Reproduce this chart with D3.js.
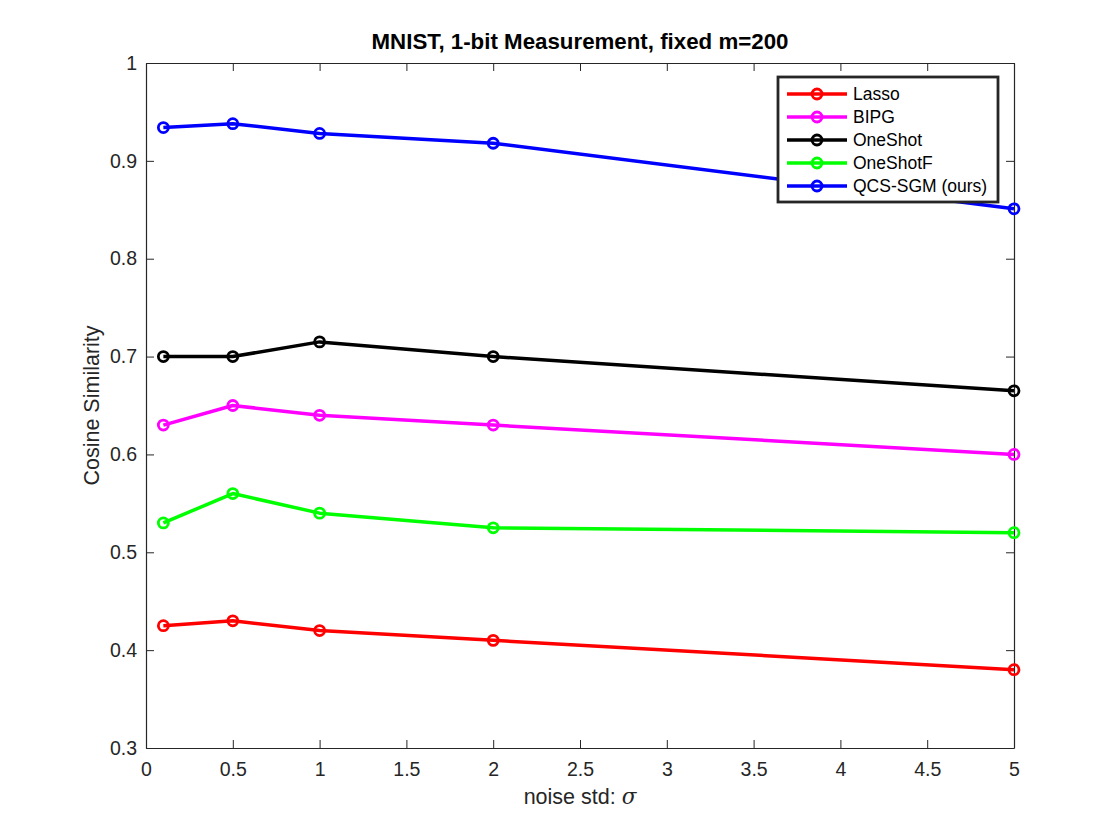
<!DOCTYPE html>
<html>
<head>
<meta charset="utf-8">
<script src="https://cdn.jsdelivr.net/npm/d3@7"></script>
<style>
  body { margin:0; background:#fff; }
  svg text { font-family: "Liberation Sans", Arial, Helvetica, sans-serif; }
</style>
</head>
<body>
<div id="chart"></div>
<script>
// data
var sigma = [0.1, 0.5, 1, 2, 5]
var seriesNames = ["Lasso", "BIPG", "OneShot", "OneShotF", "QCS-SGM (ours)"]
var seriesColors = ["#ff0000", "#ff00ff", "#000000", "#00ff00", "#0000ff"]
var lasso    = [0.425, 0.43, 0.42, 0.41, 0.38]
var bipg     = [0.63, 0.65, 0.64, 0.63, 0.60]
var oneShot  = [0.70, 0.70, 0.715, 0.70, 0.665]
var oneShotF = [0.53, 0.56, 0.54, 0.525, 0.52]
var qcsSgm   = [0.934, 0.938, 0.928, 0.918, 0.851]
var xTicks = [0, 0.5, 1, 1.5, 2, 2.5, 3, 3.5, 4, 4.5, 5]
var yTicks = [0.3, 0.4, 0.5, 0.6, 0.7, 0.8, 0.9, 1]

initChart()
function initChart(){
  var width = 1120
  var height = 840
  var margin = {top:63, bottom:92, left:146, right:106}
  var innerW = width - margin.left - margin.right
  var innerH = height - margin.top - margin.bottom
  var axisColor = "#262626"
  var tickLen = 8

  var svg = d3.select("#chart").append("svg")
      .attr("width", width)
      .attr("height", height)

  var x = d3.scaleLinear().domain([0, 5]).range([0, innerW])
  var y = d3.scaleLinear().domain([0.3, 1]).range([innerH, 0])

  var g = svg.append("g")
    .attr("transform", "translate("+margin.left+","+margin.top+")")

  var fmt = function(d){ return d3.format("")(+d.toFixed(2)) }

  // bottom and left axes with labels, ticks inward
  g.append("g")
    .attr("transform", "translate(0,"+innerH+")")
    .call(d3.axisBottom(x).tickValues(xTicks).tickFormat(fmt).tickSizeInner(-tickLen).tickSizeOuter(0).tickPadding(14))
    .attr("class","xaxis")
  g.append("g")
    .call(d3.axisLeft(y).tickValues(yTicks).tickFormat(fmt).tickSizeInner(-tickLen).tickSizeOuter(0).tickPadding(9))
    .attr("class","yaxis")
  // top and right mirrored ticks
  g.append("g")
    .call(d3.axisTop(x).tickValues(xTicks).tickFormat("").tickSizeInner(-tickLen).tickSizeOuter(0))
  g.append("g")
    .attr("transform", "translate("+innerW+",0)")
    .call(d3.axisRight(y).tickValues(yTicks).tickFormat("").tickSizeInner(-tickLen).tickSizeOuter(0))

  g.selectAll(".domain").attr("stroke", axisColor).attr("stroke-width", 1.2)
  g.selectAll(".tick line").attr("stroke", axisColor).attr("stroke-width", 1)
  g.selectAll(".tick text").attr("fill", axisColor).style("font-size", "19.5px")

  // lines and markers
  var allSeries = [lasso, bipg, oneShot, oneShotF, qcsSgm]
  var line = d3.line()
    .x(function(d,i){ return x(sigma[i]) })
    .y(function(d){ return y(d) })

  allSeries.forEach(function(vals, k){
    g.append("path")
      .datum(vals)
      .attr("d", line)
      .attr("fill", "none")
      .attr("stroke", seriesColors[k])
      .attr("stroke-width", 3.5)
      .attr("stroke-linejoin", "round")
    g.append("g").selectAll("circle")
      .data(vals)
      .enter()
      .append("circle")
      .attr("cx", function(d,i){ return x(sigma[i]) })
      .attr("cy", function(d){ return y(d) })
      .attr("r", 5)
      .attr("fill", "none")
      .attr("stroke", seriesColors[k])
      .attr("stroke-width", 2.8)
  })

  // title
  svg.append("text")
    .attr("x", margin.left + innerW/2)
    .attr("y", 49)
    .attr("text-anchor", "middle")
    .attr("fill", "#000")
    .style("font-size", "22.3px")
    .style("font-weight", "bold")
    .text("MNIST, 1-bit Measurement, fixed m=200")

  // x label
  var xl = svg.append("text")
    .attr("x", margin.left + innerW/2)
    .attr("y", 804)
    .attr("text-anchor", "middle")
    .attr("fill", axisColor)
    .style("font-size", "21.5px")
  xl.append("tspan").text("noise std: ")
  xl.append("tspan").style("font-family", "'DejaVu Serif', serif").style("font-style", "italic").text("σ")

  // y label
  svg.append("text")
    .attr("transform", "translate(99,"+(margin.top + innerH/2)+") rotate(-90)")
    .attr("text-anchor", "middle")
    .attr("fill", axisColor)
    .style("font-size", "21.5px")
    .text("Cosine Similarity")

  // legend
  var leg = svg.append("g").attr("transform", "translate(778,77)")
  leg.append("rect")
    .attr("width", 220)
    .attr("height", 125)
    .attr("fill", "#fff")
    .attr("stroke", axisColor)
    .attr("stroke-width", 2.8)
  seriesNames.forEach(function(name, k){
    var row = leg.append("g").attr("transform", "translate(0,"+(17 + k*23)+")")
    row.append("line")
      .attr("x1", 9).attr("x2", 69)
      .attr("stroke", seriesColors[k]).attr("stroke-width", 3.5)
    row.append("circle")
      .attr("cx", 39).attr("r", 5)
      .attr("fill", "none").attr("stroke", seriesColors[k]).attr("stroke-width", 2.8)
    row.append("text")
      .attr("x", 75).attr("dy", "0.35em")
      .attr("fill", "#000")
      .style("font-size", "17.5px")
      .text(name)
  })
}
</script>
</body>
</html>
